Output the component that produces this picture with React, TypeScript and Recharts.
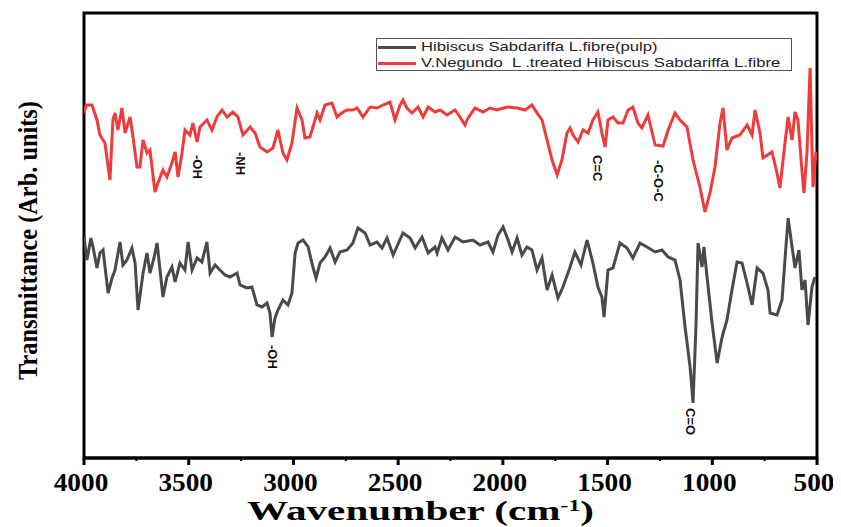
import { LineChart, Line, XAxis, YAxis, ReferenceArea, ReferenceDot } from "recharts"

// untreated pulp fibre (grey trace)
const pulpWavenumbers = [
  4000, 3986, 3967, 3957, 3938, 3924, 3909, 3885, 3866, 3852,
  3828, 3814, 3795, 3771, 3756, 3742, 3718, 3699, 3685, 3666,
  3651, 3637, 3623, 3604, 3580, 3565, 3542, 3518, 3503, 3484,
  3460, 3437, 3413, 3398, 3374, 3351, 3327, 3303, 3269, 3255,
  3222, 3198, 3174, 3150, 3126, 3112, 3102, 3088, 3074, 3050,
  3026, 3007, 2992, 2978, 2954, 2930, 2907, 2892, 2873, 2849,
  2825, 2801, 2778, 2744, 2716, 2692, 2658, 2634, 2601, 2577,
  2553, 2524, 2477, 2443, 2419, 2386, 2357, 2324, 2314, 2291,
  2262, 2228, 2190, 2143, 2109, 2071, 2047, 2023, 1999, 1975,
  1956, 1932, 1909, 1885, 1861, 1837, 1813, 1789, 1765, 1737,
  1713, 1679, 1656, 1627, 1598, 1570, 1546, 1527, 1517, 1498,
  1474, 1441, 1407, 1379, 1345, 1312, 1273, 1240, 1211, 1178,
  1154, 1130, 1106, 1092, 1078, 1068, 1049, 1040, 1025, 1001,
  977, 953, 930, 906, 882, 858, 834, 810, 786, 758,
  734, 724, 691, 667, 653, 638, 619, 605, 586, 572,
  557, 543, 524, 510,
]
const pulpTransmittance = [
  44.2, 39.6, 44, 42.2, 38, 41, 41.6, 33, 36, 37.6,
  43.2, 38.6, 39.6, 42, 39, 29.6, 37, 41, 37, 40,
  43, 37.6, 32.2, 36.2, 38.2, 35.2, 39, 37.6, 43.2, 37.6,
  40, 39.2, 43.2, 37, 38.6, 37.6, 36.6, 36.2, 37, 34.6,
  34, 34.2, 30.6, 30.2, 31, 29, 24.2, 28, 29.6, 31.6,
  30.6, 33, 41, 43, 43.6, 42.2, 38.2, 36, 39, 40.2,
  42, 39.2, 41.2, 41.6, 43, 46, 45, 42.6, 43.2, 42,
  44, 40.6, 45, 44, 42, 44.2, 41, 42.2, 41, 44,
  41.6, 44.2, 43.2, 43.6, 42.6, 43.2, 41.2, 44.6, 46.2, 43.6,
  41.2, 44, 40.6, 42.2, 41.6, 37.6, 40, 33.6, 36.6, 32,
  34.2, 38.2, 41.2, 38.6, 43.6, 39, 34.2, 32.2, 28.2, 37.6,
  38, 43, 42, 40, 43, 42.2, 41.2, 41.6, 40.2, 39.6,
  35.6, 26.2, 18.2, 11, 26.2, 43, 38.2, 42.2, 36.2, 27,
  19, 24.2, 27.6, 33.6, 39.2, 39, 35, 30.6, 38, 37,
  33.6, 29, 28.6, 31.6, 39.6, 48, 42.2, 38, 41.6, 33.6,
  35.6, 26.6, 34.2, 36.2,
]

// V. negundo treated fibre (red trace)
const treatedWavenumbers = [
  4000, 3990, 3962, 3938, 3924, 3900, 3876, 3862, 3852, 3838,
  3819, 3804, 3780, 3766, 3747, 3733, 3718, 3699, 3685, 3661,
  3647, 3623, 3604, 3580, 3565, 3551, 3532, 3518, 3494, 3480,
  3460, 3446, 3413, 3389, 3365, 3341, 3317, 3289, 3265, 3241,
  3207, 3183, 3160, 3126, 3098, 3074, 3050, 3031, 3007, 2983,
  2959, 2945, 2921, 2887, 2873, 2849, 2816, 2792, 2763, 2744,
  2716, 2696, 2668, 2634, 2601, 2572, 2539, 2515, 2491, 2477,
  2458, 2434, 2405, 2381, 2357, 2324, 2300, 2267, 2228, 2205,
  2181, 2166, 2133, 2095, 2061, 2028, 1980, 1932, 1894, 1861,
  1837, 1813, 1789, 1765, 1741, 1718, 1694, 1679, 1665, 1641,
  1617, 1593, 1570, 1546, 1527, 1512, 1498, 1474, 1450, 1426,
  1402, 1379, 1355, 1336, 1307, 1273, 1235, 1211, 1178, 1154,
  1121, 1092, 1059, 1035, 1011, 987, 963, 949, 930, 906,
  868, 834, 810, 796, 772, 758, 715, 691, 677, 653,
  638, 619, 605, 591, 572, 562, 548, 533, 524, 519,
  505,
]
const treatedTransmittance = [
  69, 70.6, 70.6, 67.6, 64.6, 63, 55.6, 67.6, 69, 65.6,
  70, 65, 68.2, 64.2, 58.2, 58.2, 63.6, 61, 61.6, 53.2,
  55, 57.6, 56.2, 59, 61.2, 56.2, 61, 65.6, 64.6, 67,
  63.2, 66.2, 67.6, 65.6, 68.2, 69.6, 68.2, 69.2, 68.2, 64.6,
  66.2, 65, 62.2, 61.2, 62, 65.6, 61, 59.6, 63, 70,
  67.6, 64, 64.2, 69, 67.6, 70.6, 71, 68.2, 69.2, 69.6,
  69.6, 70, 68.2, 70.2, 70, 70.6, 71.2, 67.6, 70.6, 71.6,
  70, 69, 70.2, 68.2, 70.2, 69.2, 69.6, 68.6, 69.6, 68.2,
  66.6, 68, 70, 69.2, 70, 69.6, 70.2, 70, 69.6, 70.6,
  69, 67.6, 63.6, 59.6, 56.6, 59.6, 65, 66, 64.6, 63.2,
  65.6, 65, 67.6, 69.2, 65, 62.2, 67.6, 68.2, 67, 67,
  69.6, 70.2, 67, 66, 68.6, 62.6, 62.4, 65.6, 69, 67.6,
  66.2, 59.6, 54.2, 49.2, 53, 58.2, 67, 70, 61.6, 64,
  64.6, 66.6, 64.6, 69.6, 65, 60, 61.2, 57, 54, 63,
  68.2, 63.6, 69.2, 67.6, 57.6, 53, 61, 78, 62.2, 54.2,
  61.2,
]

const xTicks = [4000, 3750, 3500, 3250, 3000, 2750, 2500, 2250, 2000, 1750, 1500, 1250, 1000, 750, 500]

// band assignments written next to the traces
const bandLabels = ["-OH", "-NH", "C=C", "-C-O-C", "-OH", "C=O"]
const bandWavenumbers = [3460, 3255, 1546, 1259, 3102, 1106]
const bandLevels = [60.6, 61.2, 60.6, 59.6, 22.6, 10]

const seriesNames = [
  "Hibiscus Sabdariffa L.fibre(pulp)",
  "V.Negundo  L .treated Hibiscus Sabdariffa L.fibre",
]
const seriesColors = ["#4a4a4a", "#ee3b3b"]

const pulpData = pulpWavenumbers.map((w, i) => ({ w, t: pulpTransmittance[i] }))
const treatedData = treatedWavenumbers.map((w, i) => ({ w, t: treatedTransmittance[i] }))

const serif = "'Liberation Serif', 'Times New Roman', serif"
const sans = "'Liberation Sans', Arial, sans-serif"

const WaveTick = (props: any) => {
  const { x, y, payload } = props
  const major = payload.value % 500 === 0
  return (
    <g>
      <line x1={x} x2={x} y1={y} y2={y + (major ? 7 : 3)} stroke="#000" strokeWidth={major ? 3 : 2} />
      {major && (
        <text
          transform={`translate(${x - 3},${y + 33}) scale(1.05,1)`}
          textAnchor="middle"
          fontFamily={serif}
          fontWeight="bold"
          fontSize={26}
          fill="#000"
        >
          {payload.value}
        </text>
      )}
    </g>
  )
}

const XTitle = (props: any) => {
  const { x, y, width } = props.viewBox
  return (
    <text
      transform={`translate(${x + width / 2 - 30},${y + 62}) scale(1.47,1)`}
      textAnchor="middle"
      fontFamily={serif}
      fontWeight="bold"
      fontSize={28}
      fill="#000"
    >
      Wavenumber (cm
      <tspan fontSize={16} dy={-9}>-1</tspan>
      <tspan dy={9}>)</tspan>
    </text>
  )
}

const YTitle = (props: any) => {
  const { y, height } = props.viewBox
  return (
    <text
      transform={`translate(20,${y + height / 2 + 5}) rotate(-90) scale(0.87,1)`}
      textAnchor="middle"
      dominantBaseline="central"
      fontFamily={serif}
      fontWeight="bold"
      fontSize={28}
      fill="#000"
    >
      Transmittance (Arb. units)
    </text>
  )
}

const BandText = (label: string) => (props: any) => {
  const { cx, cy } = props
  return (
    <text
      x={cx}
      y={cy}
      transform={`rotate(90 ${cx} ${cy})`}
      dominantBaseline="central"
      fontFamily={sans}
      fontWeight="bold"
      fontSize={13}
      fill="#111"
    >
      {label}
    </text>
  )
}

export default function App() {
  return (
    <div style={{ position: "relative", width: 833, height: 519 }}>
      <LineChart
        width={833}
        height={519}
        margin={{ top: 5, right: 24, left: 0, bottom: 0 }}
        style={{ overflow: "visible" }}
      >
        <XAxis
          dataKey="w"
          type="number"
          domain={[500, 4000]}
          reversed
          ticks={xTicks}
          interval={0}
          tickSize={0}
          tickMargin={0}
          tickLine={false}
          tick={<WaveTick />}
          axisLine={{ stroke: "#000", strokeWidth: 3 }}
          height={69}
          allowDataOverflow
          label={{ content: XTitle }}
        />
        <YAxis
          type="number"
          domain={[0, 89]}
          width={76}
          axisLine={false}
          tickLine={false}
          tick={false}
          allowDataOverflow
          label={{ content: YTitle }}
        />
        <Line
          data={pulpData}
          dataKey="t"
          type="linear"
          stroke={seriesColors[0]}
          strokeWidth={3}
          dot={false}
          isAnimationActive={false}
        />
        <Line
          data={treatedData}
          dataKey="t"
          type="linear"
          stroke={seriesColors[1]}
          strokeWidth={3}
          dot={false}
          isAnimationActive={false}
        />
        {bandLabels.map((label, i) => (
          <ReferenceDot
            key={i}
            x={bandWavenumbers[i]}
            y={bandLevels[i]}
            r={0}
            shape={BandText(label)}
          />
        ))}
        <ReferenceArea x1={4000} x2={500} y1={0} y2={89} fill="none" stroke="#000" strokeWidth={3} />
      </LineChart>
      <div
        style={{
          position: "absolute",
          left: 368,
          top: 30,
          width: 416,
          height: 33,
          boxSizing: "border-box",
          border: "1.5px solid #555",
          background: "#fff",
        }}
      >
        {seriesNames.map((name, i) => (
          <div key={name} style={{ position: "absolute", left: 0, top: i * 16, height: 16, width: "100%" }}>
            <div
              style={{
                position: "absolute",
                left: 1,
                top: 7,
                width: 38,
                height: 3,
                background: seriesColors[i],
              }}
            />
            <div
              style={{
                position: "absolute",
                left: 44,
                top: 1,
                fontFamily: sans,
                fontSize: 13,
                lineHeight: "14px",
                color: "#222",
                whiteSpace: "pre",
                transform: "scaleX(1.28)",
                transformOrigin: "left center",
              }}
            >
              {name}
            </div>
          </div>
        ))}
      </div>
    </div>
  )
}
